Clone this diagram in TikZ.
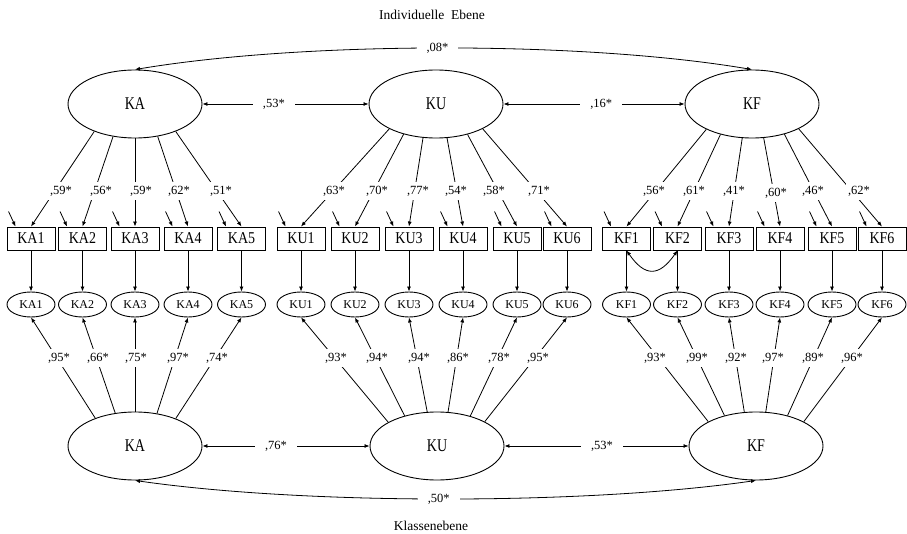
\documentclass[tikz,border=0pt]{standalone}
\usepackage{fontspec}
\setmainfont{Liberation Serif}
\usepackage{graphicx}
\usetikzlibrary{arrows.meta,shapes.geometric,calc}
\newcommand\bigtxt[1]{\scalebox{1}[1.28]{#1}}
\newcommand\boxtxt[1]{\scalebox{1}[1.18]{#1}}
\begin{document}
\begin{tikzpicture}[x=1pt,y=-1pt,
  line width=0.8pt,
  >={Latex[length=5pt,width=4pt]},
  bigell/.style={ellipse,draw,line width=0.9pt,minimum width=134pt,minimum height=68pt,inner sep=0pt,font=\fontsize{14}{16}\selectfont},
  ind/.style={rectangle,draw,line width=0.9pt,minimum width=48pt,minimum height=23pt,inner sep=0pt,font=\fontsize{14}{16}\selectfont},
  sell/.style={ellipse,draw,line width=0.9pt,minimum width=48pt,minimum height=25pt,inner sep=0pt,font=\fontsize{12}{14}\selectfont},
  lab/.style={fill=white,inner xsep=2pt,inner ysep=4pt,font=\fontsize{12.5}{14}\selectfont},
  hlab/.style={fill=white,inner xsep=10pt,inner ysep=3pt,font=\fontsize{12.5}{14}\selectfont},
  title/.style={font=\fontsize{13.5}{16}\selectfont}
]
\useasboundingbox (0,0) rectangle (907,534);

\node[title] (t1) at (432,15) {Individuelle\ \ Ebene};
\node[title] (t2) at (431,526) {Klassenebene};

% upper latent factors
\node[bigell] (KA) at (135,104) {\bigtxt{KA}};
\node[bigell] (KU) at (436,104) {\bigtxt{KU}};
\node[bigell] (KF) at (752,104) {\bigtxt{KF}};
% lower latent factors
\node[bigell] (KAb) at (135,446) {\bigtxt{KA}};
\node[bigell] (KUb) at (437,446) {\bigtxt{KU}};
\node[bigell] (KFb) at (756,446) {\bigtxt{KF}};

% indicators
\foreach \n/\x in {KA1/31,KA2/82.5,KA3/135,KA4/188,KA5/241.5,
                   KU1/301,KU2/355,KU3/409,KU4/463,KU5/517,KU6/567,
                   KF1/626.5,KF2/677.5,KF3/729,KF4/780,KF5/832,KF6/882}{
  \node[ind] (b\n) at (\x,238.5) {\boxtxt{\n}};
  \node[sell] (e\n) at (\x,304.5) {\n};
  \draw[->] (b\n) -- (e\n);
  \coordinate (r\n) at ($(b\n.north west)+(2,-15)$);
  \draw[->] (r\n) -- ($(b\n.north west)+(9,0)$);
}

% upper loadings
\foreach \n/\a/\lx/\v in {KA1/214/61/59,KA2/236/101/56,KA3/270/141/59,KA4/305/179/62,KA5/326/221/51}{
  \draw[->] (KA.\a) -- (b\n.north);
  \node[lab] (u\n) at (\lx,191) {,\v*};
}
\foreach \n/\a/\lx/\v in {KU1/208/334/63,KU2/223/377/70,KU3/249/418/77,KU4/288/456/54,KU5/316/494/58,KU6/332/539/71}{
  \draw[->] (KU.\a) -- (b\n.north);
  \node[lab] (u\n) at (\lx,191) {,\v*};
}
\foreach \n/\a/\lx/\ly/\v in {KF1/209/654/191/56,KF2/224/694/191/61,KF3/254/734/191/41,KF4/289/776/193/60,KF5/317/813/191/46,KF6/332/859/191/62}{
  \draw[->] (KF.\a) -- (b\n.north);
  \node[lab] (u\n) at (\lx,\ly) {,\v*};
}

% lower loadings
\foreach \n/\a/\lx/\v in {KA1/145/59/95,KA2/121/98/66,KA3/90/136/75,KA4/56/178/97,KA5/34/217/74}{
  \draw[->] (KAb.\a) -- (e\n.south);
  \node[lab] (d\n) at (\lx,358) {,\v*};
}
\foreach \n/\a/\lx/\v in {KU1/154/336/93,KU2/137/377/94,KU3/106/419/94,KU4/72/458/86,KU5/42/499/78,KU6/27/538/95}{
  \draw[->] (KUb.\a) -- (e\n.south);
  \node[lab] (d\n) at (\lx,358) {,\v*};
}
\foreach \n/\a/\lx/\v in {KF1/153/655/93,KF2/136/697/99,KF3/109/736/92,KF4/74/773/97,KF5/44/813/89,KF6/27/852/96}{
  \draw[->] (KFb.\a) -- (e\n.south);
  \node[lab] (d\n) at (\lx,358) {,\v*};
}

% residual correlation KF1-KF2
\draw[<->] (bKF1.south) .. controls (645,277) and (659,277) .. (bKF2.south);

% factor correlations
\draw[<->] (KA) -- node[hlab,pos=.43] (c1) {,53*} (KU);
\draw[<->] (KU) -- node[hlab,pos=.54] (c2) {,16*} (KF);
\draw[<->] (KAb) -- node[hlab,pos=.44] (c3) {,76*} (KUb);
\draw[<->] (KUb) -- node[hlab,pos=.53] (c4) {,53*} (KFb);
\draw[<->] (KA.north) .. controls (305,41) and (584,41) .. node[hlab,pos=.49] (c5) {,08*} (KF.north);
\draw[<->] (KAb.south) .. controls (305,505) and (586,505) .. node[hlab,pos=.49] (c6) {,50*} (KFb.south);
\end{tikzpicture}
\end{document}
